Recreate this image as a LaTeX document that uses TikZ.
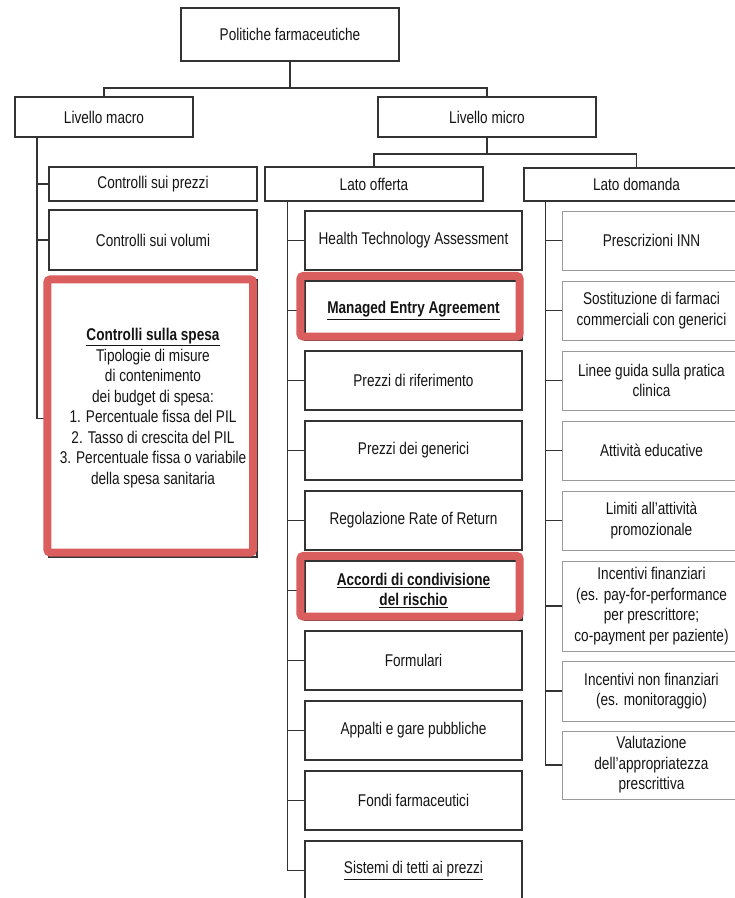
\documentclass[tikz,border=0pt]{standalone}
\usepackage{fontspec}
\setmainfont{Liberation Sans}[FakeStretch=0.80]
\usetikzlibrary{calc}
\definecolor{hired}{RGB}{218,94,94}

\begin{document}
\begin{tikzpicture}[x=1pt,y=-1pt,every node/.style={draw=black!80,line width=1.2pt,align=center,inner sep=2pt,text=black!92,font=\fontsize{17}{20.5}\selectfont},
sz/.style 2 args={minimum width=#1pt,minimum height=#2pt},
light/.style={draw=black!40,line width=1pt},
link/.style={draw=black!80,line width=1.2pt},
hilite/.style={draw=hired,line width=8pt,rounded corners=3pt}
]
\clip (0,0) rectangle (735,898);
\node[sz={218}{53}] (pol) at (290,34.5) {Politiche farmaceutiche};
\node[sz={178}{40}] (macro) at (104,117) {Livello macro};
\node[sz={218}{40}] (micro) at (487,117) {Livello micro};

% livello macro
\node[sz={208}{34}] (prezzi) at (153,184) {Controlli sui prezzi};
\node[sz={208}{60}] (volumi) at (153,240) {Controlli sui volumi};
\node[sz={208}{277}] (spesa) at (153,418.5) {\underline{\textbf{Controlli sulla spesa}}\\Tipologie di misure\\di contenimento\\dei budget di spesa:\\1. Percentuale fissa del PIL\\2. Tasso di crescita del PIL\\3. Percentuale fissa o variabile\\della spesa sanitaria\\[4pt]\mbox{}};

% livello micro
\node[sz={218}{34}] (offerta) at (374,184) {Lato offerta};
\node[sz={225}{33}] (domanda) at (636.5,184.5) {Lato domanda};

\node[sz={217}{59}] (o1) at (413.5,240.5) {Health Technology Assessment};
\node[sz={217}{59}] (o2) at (413.5,310.5) {\underline{\textbf{Managed Entry Agreement}}};
\node[sz={217}{59}] (o3) at (413.5,380.5) {Prezzi di riferimento};
\node[sz={217}{59}] (o4) at (413.5,450.5) {Prezzi dei generici};
\node[sz={217}{59}] (o5) at (413.5,520.5) {Regolazione Rate of Return};
\node[sz={217}{59}] (o6) at (413.5,590.5) {\underline{\textbf{Accordi di condivisione}}\\\underline{\textbf{del rischio}}};
\node[sz={217}{59}] (o7) at (413.5,660.5) {Formulari};
\node[sz={217}{59}] (o8) at (413.5,730.5) {Appalti e gare pubbliche};
\node[sz={217}{59}] (o9) at (413.5,800.5) {Fondi farmaceutici};
\node[sz={217}{59}] (o10) at (413.5,870.5) {\underline{Sistemi di tetti ai prezzi}};

\node[light,sz={179}{59}] (d1) at (651.5,240.5) {Prescrizioni INN};
\node[light,sz={179}{59}] (d2) at (651.5,310.5) {Sostituzione di farmaci\\commerciali con generici};
\node[light,sz={179}{59}] (d3) at (651.5,380.5) {Linee guida sulla pratica\\clinica};
\node[light,sz={179}{59}] (d4) at (651.5,450.5) {Attività educative};
\node[light,sz={179}{59}] (d5) at (651.5,520.5) {Limiti all’attività\\promozionale};
\node[light,sz={179}{90}] (d6) at (651.5,606) {Incentivi finanziari\\(es. pay-for-performance\\per prescrittore;\\co-payment per paziente)};
\node[light,sz={179}{60}] (d7) at (651.5,691) {Incentivi non finanziari\\(es. monitoraggio)};
\node[light,sz={179}{68}] (d8) at (651.5,765) {Valutazione\\dell’appropriatezza\\prescrittiva};

% connettori
\coordinate (f1) at (290,88);
\coordinate (f2) at (487,154);
\draw[link] (pol.south) -- (f1);
\draw[link] (macro.north) |- (f1) -| (micro.north);
\draw[link] (micro.south) -- (f2);
\draw[link] (offerta.north) |- (f2) -| (domanda.north);

\coordinate (mtop) at (37,137);
\draw[link] (mtop) |- (spesa.west);
\draw[link] (mtop) |- (prezzi.west);
\draw[link] (mtop) |- (volumi.west);

\coordinate (otop) at (287.5,201);
\draw[link] (otop) |- (o10.west);
\draw[link] (otop) |- (o1.west);
\draw[link] (otop) |- (o2.west);
\draw[link] (otop) |- (o3.west);
\draw[link] (otop) |- (o4.west);
\draw[link] (otop) |- (o5.west);
\draw[link] (otop) |- (o6.west);
\draw[link] (otop) |- (o7.west);
\draw[link] (otop) |- (o8.west);
\draw[link] (otop) |- (o9.west);

\coordinate (dtop) at (545.5,201);
\draw[link] (dtop) |- (d8.west);
\draw[link] (dtop) |- (d1.west);
\draw[link] (dtop) |- (d2.west);
\draw[link] (dtop) |- (d3.west);
\draw[link] (dtop) |- (d4.west);
\draw[link] (dtop) |- (d5.west);
\draw[link] (dtop) |- (d6.west);
\draw[link] (dtop) |- (d7.west);

% riquadri evidenziati
\draw[hilite] ([shift={(-1,0)}]spesa.north west) rectangle ([shift={(-4.5,-5)}]spesa.south east);
\draw[hilite] ([shift={(-4,-4.5)}]o2.north west) rectangle ([shift={(-3,-4)}]o2.south east);
\draw[hilite] ([shift={(-4,-4.5)}]o6.north west) rectangle ([shift={(-3,-4)}]o6.south east);

\end{tikzpicture}
\end{document}
